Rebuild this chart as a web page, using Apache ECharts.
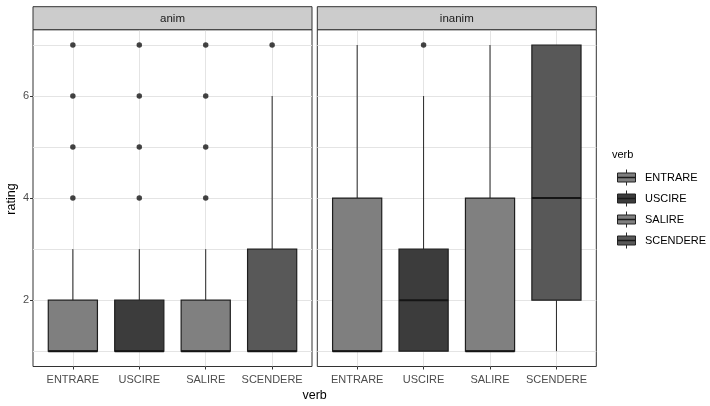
<!DOCTYPE html>
<html>
<head>
<meta charset="utf-8">
<script src="https://cdn.jsdelivr.net/npm/echarts@6/dist/echarts.min.js"></script>
<style>html,body{margin:0;padding:0;background:#fff}#c{width:710px;height:406px}</style>
</head>
<body>
<div id="c"></div>
<script>
// ---- data ----
const verbs = ['ENTRARE', 'USCIRE', 'SALIRE', 'SCENDERE'];
const facets = ['anim', 'inanim'];
// five-number stats per verb: [lower whisker, Q1, median, Q3, upper whisker]
const animStats = [[1, 1, 1, 2, 3], [1, 1, 1, 2, 3], [1, 1, 1, 2, 3], [1, 1, 1, 3, 6]];
const inanimStats = [[1, 1, 1, 4, 7], [1, 1, 2, 3, 6], [1, 1, 1, 4, 7], [1, 2, 4, 7, 7]];
// outliers: [verb index, rating]
const animOutliers = [[0, 4], [0, 5], [0, 6], [0, 7], [1, 4], [1, 5], [1, 6], [1, 7], [2, 4], [2, 5], [2, 6], [2, 7], [3, 7]];
const inanimOutliers = [[1, 7]];
const yTicks = [2, 4, 6];
const yGridValues = [1, 2, 3, 4, 5, 6, 7];

// ---- style ----
const verbColors = ['#7f7f7f', '#3c3c3c', '#808080', '#585858'];
const Y_MIN = 0.7, Y_MAX = 7.3;
const PANEL_LEFT = [33, 317.3];
const PANEL_W = 279;
const TOP = 29.7, H = 336.8;
const INSET = PANEL_W * 0.1 / 4.2;
const FONT = 'Liberation Sans, Arial, sans-serif';

const chart = echarts.init(document.getElementById('c'), null, {renderer: 'canvas'});

const grids = [], xAxes = [], yAxes = [], series = [], graphics = [];

facets.forEach((f, fi) => {
  const left = PANEL_LEFT[fi];
  // frame grid (border, gridlines, y ticks)
  const frameIdx = grids.length;
  grids.push({left: left, top: TOP, width: PANEL_W, height: H, show: true,
    borderColor: '#333', borderWidth: 1, backgroundColor: 'transparent', containLabel: false});
  xAxes.push({gridIndex: frameIdx, type: 'value', min: -0.6, max: verbs.length - 0.4,
    axisLine: {show: false}, axisTick: {show: false, customValues: verbs.map((v, i) => i)},
    axisLabel: {show: false}, splitLine: {show: true, lineStyle: {color: '#e4e4e4', width: 1}}});
  yAxes.push({gridIndex: frameIdx, type: 'value', min: Y_MIN, max: Y_MAX, position: 'left',
    axisLine: {show: false}, axisTick: {show: false, customValues: yGridValues},
    axisLabel: {show: false}, splitLine: {show: true, lineStyle: {color: '#e4e4e4', width: 1}}});
  yAxes.push({gridIndex: frameIdx, type: 'value', min: Y_MIN, max: Y_MAX, position: 'left', offset: 0,
    show: fi === 0,
    axisLine: {show: false},
    axisTick: {show: true, length: 3, customValues: yTicks, lineStyle: {color: '#333'}},
    axisLabel: {show: true, customValues: yTicks, color: '#4d4d4d', fontSize: 11, fontFamily: FONT, margin: 4},
    splitLine: {show: false}});
  // data grid
  const dataIdx = grids.length;
  grids.push({left: left + INSET, top: TOP, width: PANEL_W - 2 * INSET, height: H, show: false, containLabel: false});
  xAxes.push({gridIndex: dataIdx, type: 'category', data: verbs, boundaryGap: true,
    axisLine: {show: false},
    axisTick: {show: true, alignWithLabel: true, length: 3, lineStyle: {color: '#333'}},
    axisLabel: {color: '#4d4d4d', fontSize: 11, fontFamily: FONT, margin: 8, interval: 0},
    splitLine: {show: false}});
  const dataXIdx = xAxes.length - 1;
  const dataYIdx = yAxes.length;
  yAxes.push({gridIndex: dataIdx, type: 'value', min: Y_MIN, max: Y_MAX, show: false, splitLine: {show: false}});

  const stats = fi === 0 ? animStats : inanimStats;
  const outl = fi === 0 ? animOutliers : inanimOutliers;

  series.push({
    type: 'custom', xAxisIndex: dataXIdx, yAxisIndex: dataYIdx, z: 3,
    encode: {x: 0, y: [1, 2, 3, 4, 5]},
    data: stats.map((s, i) => [i].concat(s)),
    renderItem: function (params, api) {
      const x = api.value(0);
      const lo = api.coord([x, api.value(1)]);
      const q1 = api.coord([x, api.value(2)]);
      const md = api.coord([x, api.value(3)]);
      const q3 = api.coord([x, api.value(4)]);
      const hi = api.coord([x, api.value(5)]);
      const bw = api.size([1, 0])[0] * 0.74;
      const cx = q1[0];
      return {type: 'group', children: [
        {type: 'line', shape: {x1: cx, y1: lo[1], x2: cx, y2: q1[1]}, style: {stroke: '#262626', lineWidth: 1}},
        {type: 'line', shape: {x1: cx, y1: q3[1], x2: cx, y2: hi[1]}, style: {stroke: '#262626', lineWidth: 1}},
        {type: 'rect', shape: {x: cx - bw / 2, y: q3[1], width: bw, height: q1[1] - q3[1]},
          style: {fill: verbColors[params.dataIndex], stroke: '#1e1e1e', lineWidth: 1.2}},
        {type: 'line', shape: {x1: cx - bw / 2, y1: md[1], x2: cx + bw / 2, y2: md[1]}, style: {stroke: '#151515', lineWidth: 2}}
      ]};
    }
  });
  series.push({
    type: 'scatter', xAxisIndex: dataXIdx, yAxisIndex: dataYIdx, z: 4,
    symbol: 'circle', symbolSize: 5.5, itemStyle: {color: '#141414'},
    data: outl
  });

  // strip
  graphics.push({type: 'rect', shape: {x: left, y: 6.7, width: PANEL_W, height: TOP - 6.7},
    style: {fill: '#cccccc', stroke: '#333', lineWidth: 1}, z: 10});
  graphics.push({type: 'text', x: left + PANEL_W / 2, y: (6.7 + TOP) / 2 + 0.5,
    style: {text: f, fill: '#1a1a1a', font: '11.5px ' + FONT, textAlign: 'center', textVerticalAlign: 'middle'}, z: 11});
});

// axis titles
graphics.push({type: 'text', x: (PANEL_LEFT[0] + PANEL_LEFT[1] + PANEL_W) / 2, y: 396,
  style: {text: 'verb', fill: '#000', font: '12.5px ' + FONT, textAlign: 'center', textVerticalAlign: 'middle'}});
graphics.push({type: 'text', x: 12, y: 199, rotation: Math.PI / 2,
  style: {text: 'rating', fill: '#000', font: '12.5px ' + FONT, textAlign: 'center', textVerticalAlign: 'middle'}});

// legend
graphics.push({type: 'text', x: 612, y: 155,
  style: {text: 'verb', fill: '#000', font: '11px ' + FONT, textAlign: 'left', textVerticalAlign: 'middle'}});
verbs.forEach((v, i) => {
  const cy = 177.5 + i * 21;
  const kx = 626.5;
  graphics.push({type: 'line', shape: {x1: kx, y1: cy - 8, x2: kx, y2: cy + 8}, style: {stroke: '#2a2a2a', lineWidth: 1}});
  graphics.push({type: 'rect', shape: {x: kx - 9, y: cy - 4.5, width: 18, height: 9},
    style: {fill: verbColors[i], stroke: '#222', lineWidth: 1}});
  graphics.push({type: 'line', shape: {x1: kx - 9, y1: cy, x2: kx + 9, y2: cy}, style: {stroke: '#1a1a1a', lineWidth: 1.5}});
  graphics.push({type: 'text', x: 645, y: cy,
    style: {text: v, fill: '#000', font: '11px ' + FONT, textAlign: 'left', textVerticalAlign: 'middle'}});
});

chart.setOption({
  backgroundColor: '#fff',
  animation: false,
  grid: grids,
  xAxis: xAxes,
  yAxis: yAxes,
  series: series,
  graphic: {elements: graphics}
});
</script>
</body>
</html>
